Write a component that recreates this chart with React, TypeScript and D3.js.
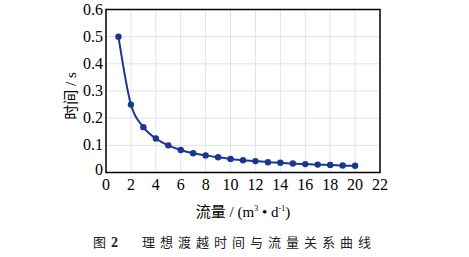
import React from "react";
import * as d3 from "d3";

const flows = [1, 2, 3, 4, 5, 6, 7, 8, 9, 10, 11, 12, 13, 14, 15, 16, 17, 18, 19, 20];
const times = [0.5, 0.25, 0.167, 0.125, 0.1, 0.083, 0.071, 0.063, 0.056, 0.05, 0.045, 0.042, 0.038, 0.036, 0.033, 0.031, 0.029, 0.028, 0.026, 0.025];
const xTicks = [0, 2, 4, 6, 8, 10, 12, 14, 16, 18, 20, 22];
const yTicks = [0, 0.1, 0.2, 0.3, 0.4, 0.5, 0.6];

const W = 469, H = 257;
const L = 106, R = 380, T = 9.5, B = 172.5;
const serif = { fontFamily: '"Liberation Serif", "DejaVu Serif", serif' };
const cjk = { fontFamily: '"Noto Sans CJK SC", sans-serif' };
const blue = "#1b3690";

export default function App() {
  const x = d3.scaleLinear().domain([0, 22]).range([L, R]);
  const y = d3.scaleLinear().domain([0, 0.6]).range([B, T]);
  const pts: [number, number][] = flows.map((f, i) => [f, times[i]]);
  const line = d3.line<[number, number]>().x(d => x(d[0])).y(d => y(d[1])).curve(d3.curveMonotoneX);

  return (
    <svg width={W} height={H} style={{ position: "absolute", left: 0, top: 0, background: "#fff" }}>
      {xTicks.slice(1, -1).map(t => (
        <line key={"gx" + t} x1={x(t)} x2={x(t)} y1={T} y2={B} stroke="#dfe4ea" strokeWidth={1} />
      ))}
      {yTicks.slice(1, -1).map(t => (
        <line key={"gy" + t} x1={L} x2={R} y1={y(t)} y2={y(t)} stroke="#dfe4ea" strokeWidth={1} />
      ))}
      <rect x={L} y={T} width={R - L} height={B - T} fill="none" stroke="#000" strokeWidth={1.5} />
      <path d={line(pts) || ""} fill="none" stroke={blue} strokeWidth={2} />
      {pts.map((p, i) => (
        <circle key={i} cx={x(p[0])} cy={y(p[1])} r={3.2} fill={blue} />
      ))}
      {yTicks.map(t => (
        <text key={"yt" + t} x={L - 3} y={y(t) + (t === 0 ? 2 : 5)} textAnchor="end" style={serif} fontSize={16} fill="#000">
          {t === 0 ? "0" : t.toFixed(1)}
        </text>
      ))}
      {xTicks.map(t => (
        <text key={"xt" + t} x={x(t)} y={B + 17} textAnchor="middle" style={serif} fontSize={16} fill="#000">
          {t}
        </text>
      ))}
      <text transform={`translate(76,96) rotate(-90)`} textAnchor="middle" fontSize={15} fill="#000">
        <tspan style={cjk}>时间</tspan>
        <tspan style={serif}> / s</tspan>
      </text>
      <text x={243} y={217} textAnchor="middle" fontSize={15} fill="#000">
        <tspan style={cjk}>流量</tspan>
        <tspan style={serif}> / (m</tspan>
        <tspan style={serif} fontSize={8} dy={-6}>3</tspan>
        <tspan style={serif} dy={6}> • d</tspan>
        <tspan style={serif} fontSize={8} dy={-6}>-1</tspan>
        <tspan style={serif} dy={6}>)</tspan>
      </text>
      <text x={93} y={247} fontSize={13} fill="#222" style={cjk}>
        图
        <tspan style={serif} fontWeight="bold" fontSize={14} dx={5}>2</tspan>
      </text>
      <text x={142} y={247} fontSize={13} fill="#222" style={cjk} letterSpacing={5}>
        理想渡越时间与流量关系曲线
      </text>
    </svg>
  );
}
